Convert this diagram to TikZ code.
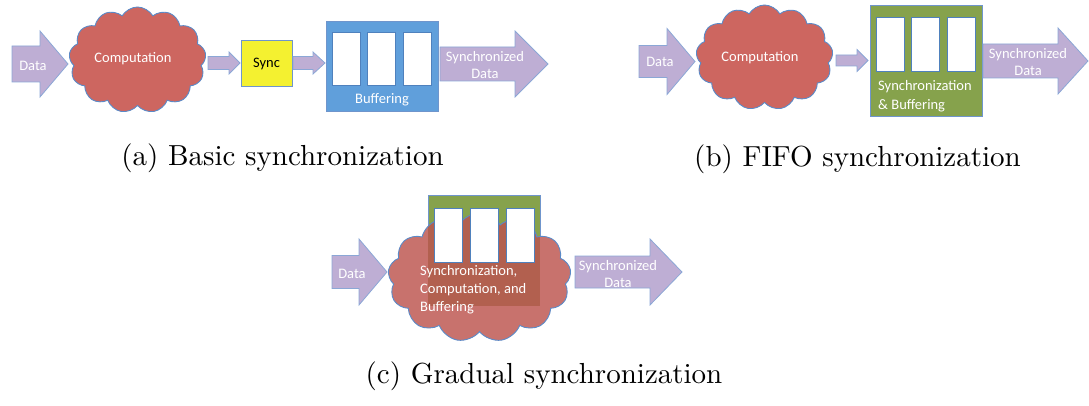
\documentclass[tikz,border=0pt]{standalone}
\usepackage{fontspec}
\newfontfamily\labelfont{Carlito}
\newfontfamily\capfont{lmroman10-regular}[Extension=.otf]
\usetikzlibrary{shapes.symbols}

\definecolor{arrowfill}{HTML}{BEAED4}
\definecolor{arrowline}{HTML}{8BA7D6}
\definecolor{cloudred}{HTML}{CD6660}
\definecolor{cloudsoft}{HTML}{C8726D}
\definecolor{cloudline}{HTML}{5A8AC8}
\definecolor{syncyellow}{HTML}{F4F130}
\definecolor{bufblue}{HTML}{609FDB}
\definecolor{boxline}{HTML}{6F95CC}
\definecolor{fifogreen}{HTML}{86A24C}
\definecolor{overlapbrown}{HTML}{B2604F}
\definecolor{slotline}{HTML}{4F81BD}

% block arrow: #1 tail x, #2 head start x, #3 tip x, #4 centre y, #5 half body, #6 half head
\newcommand\fatarrow[6]{%
  \draw[blockarrow] (#1,#4-#5) -- (#2,#4-#5) -- (#2,#4-#6) -- (#3,#4)
    -- (#2,#4+#6) -- (#2,#4+#5) -- (#1,#4+#5) -- cycle;}

\tikzset{
  blockarrow/.style={fill=arrowfill, draw=arrowline, line width=0.8pt, line join=miter},
  puff/.style={cloud, cloud puffs=13, cloud puff arc=120, aspect=1.3, inner sep=0pt,
    fill=cloudred, draw=cloudline, line width=0.9pt},
  lbl/.style={font=\labelfont\fontsize{14.5}{17}\selectfont, text=white, inner sep=0pt, align=center},
  slot/.style={fill=white, draw=slotline, line width=0.8pt, inner sep=0pt},
  panel/.style={draw=boxline, line width=0.8pt, inner sep=0pt},
  caption/.style={font=\capfont\fontsize{29}{34}\selectfont, anchor=base, inner sep=0pt},
}

\begin{document}
\begin{tikzpicture}[x=1pt, y=-1pt]
\useasboundingbox (0,0) rectangle (1089,406);

% ---------------- (a) basic synchronization ----------------
\fatarrow{12}{40}{68}{64}{18}{33}
\node[lbl] (dataA) at (33,66) {Data};
\node[puff, minimum width=137pt, minimum height=106pt] (compA) at (137.5,60) {};
\node[lbl] (compAtxt) at (133,59) {Computation};
\fatarrow{208}{229}{240}{63}{6.5}{11}
\node[panel, fill=syncyellow, minimum width=51pt, minimum height=46pt,
  font=\labelfont\fontsize{14.5}{17}\selectfont] (sync) at (266.5,63.5) {Sync};
\fatarrow{293}{313}{325}{63}{6.5}{11}
\node[panel, fill=bufblue, minimum width=112pt, minimum height=90pt] (bufA) at (382,66) {};
\foreach \cx [count=\i] in {346.5,381.5,417.5}
  \node[slot, minimum width=28pt, minimum height=53pt] (slotA\i) at (\cx,58.5) {};
\node[lbl] (bufAtxt) at (382,100) {Buffering};
\fatarrow{440}{515}{548}{64}{17}{33}
\node[lbl] (outA) at (485,65.5) {Synchronized\\Data};
\node[caption] (capA) at (282.5,166) {(a) Basic synchronization};

% ---------------- (b) FIFO synchronization ----------------
\fatarrow{639}{667}{695}{61.5}{16}{33}
\node[lbl] (dataB) at (660,62) {Data};
\node[puff, minimum width=137pt, minimum height=105pt] (compB) at (764.5,57.5) {};
\node[lbl] (compBtxt) at (760,58) {Computation};
\fatarrow{836}{857}{868}{60.5}{5.5}{11}
\node[panel, fill=fifogreen, minimum width=112pt, minimum height=111pt] (fifoB) at (926,60.5) {};
\foreach \cx [count=\i] in {890,925,961}
  \node[slot, minimum width=28pt, minimum height=54pt] (slotB\i) at (\cx,44) {};
\node[lbl, anchor=west, align=left, font=\labelfont\fontsize{14.5}{19}\selectfont]
  (fifoBtxt) at (878,96.5) {Synchronization\\\& Buffering};
\fatarrow{983}{1058}{1088}{61}{17}{33}
\node[lbl] (outB) at (1028,62.5) {Synchronized\\Data};
\node[caption] (capB) at (857.5,166.5) {(b) FIFO synchronization};

% ---------------- (c) gradual synchronization ----------------
\fatarrow{332}{359}{387}{272}{16.5}{33}
\node[lbl] (dataC) at (352,274) {Data};
\node[panel, fill=fifogreen, minimum width=112pt, minimum height=111pt] (fifoC) at (484,250.5) {};
\node[puff, fill=cloudsoft, minimum width=183pt, minimum height=129pt,
  path picture={\fill[overlapbrown] (fifoC.south west) rectangle (fifoC.north east);}]
  (compC) at (479.5,277.5) {};
\foreach \cx [count=\i] in {448.5,484,520}
  \node[slot, minimum width=28pt, minimum height=54pt] (slotC\i) at (\cx,235) {};
\node[lbl, anchor=west, align=left, font=\labelfont\fontsize{14.5}{18}\selectfont]
  (compCtxt) at (420,290) {Synchronization,\\Computation, and\\Buffering};
\fatarrow{575}{650}{682}{272}{16}{33}
\node[lbl] (outC) at (618,274) {Synchronized\\Data};
\node[caption] (capC) at (544,383) {(c) Gradual synchronization};
\end{tikzpicture}
\end{document}
